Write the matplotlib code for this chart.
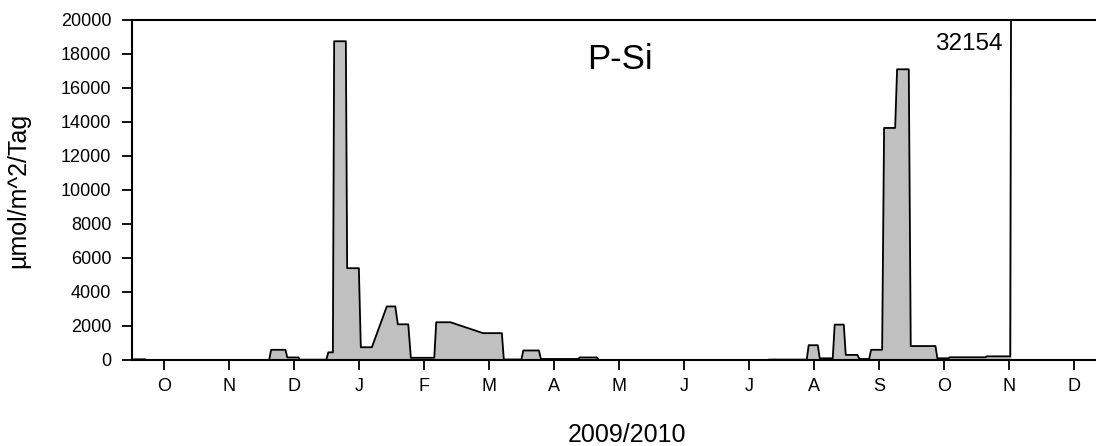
import matplotlib
matplotlib.use("Agg")
import matplotlib.pyplot as plt
import numpy as np

plt.rcParams['font.family'] = ['Liberation Sans', 'DejaVu Sans']

# Month tick labels (Oct 2009 .. Dec 2010); x is measured in months from October 2009
month_labels = ['O', 'N', 'D', 'J', 'F', 'M', 'A', 'M', 'J', 'J', 'A', 'S', 'O', 'N', 'D']

# Sampling intervals (start, end, in months) and P-Si flux for each cup
cup_start = [-0.49, -0.26, 1.65, 1.90, 2.09, 2.53, 2.62, 2.82, 3.03, 3.43, 3.60, 3.80,
             4.19, 4.91, 5.23, 5.53, 5.80, 6.40, 6.69, 9.31, 9.92, 10.09, 10.32, 10.49,
             10.70, 10.88, 11.08, 11.28, 11.49, 11.90, 12.09, 12.66, 13.04]
cup_end = [-0.29, 1.62, 1.87, 2.07, 2.50, 2.60, 2.80, 3.00, 3.20, 3.56, 3.76, 4.16,
           4.41, 5.20, 5.50, 5.77, 6.37, 6.66, 9.29, 9.89, 10.06, 10.29, 10.46, 10.67,
           10.85, 11.05, 11.25, 11.46, 11.87, 12.07, 12.64, 13.02, 13.04]
psi_flux = [40, 0, 600, 150, 20, 450, 18750, 5400, 750, 3150, 2100, 130,
            2220, 1580, 30, 560, 60, 150, 0, 25, 870, 100, 2080, 300,
            60, 600, 13650, 17100, 820, 100, 160, 215, 32154]

off_scale_label = "32154"

# Build the step-like outline: each cup is a flat segment, gaps are joined directly
xs, ys = [], []
for s, e, v in zip(cup_start, cup_end, psi_flux):
    xs.extend([s, e])
    ys.extend([v, v])
xs = np.array(xs)
ys = np.array(ys)

fig = plt.figure(figsize=(10.96, 4.46), dpi=100)
ax = fig.add_axes([132 / 1096, 1 - 360 / 446, (1122 - 132) / 1096, 340 / 446])

ax.fill_between(xs, 0, ys, color='#c0c0c0', linewidth=0)
ax.plot(xs, ys, color='black', linewidth=1.3)

ax.set_xlim(-0.49, 14.74)
ax.set_ylim(0, 20000)

ax.set_xticks(np.arange(len(month_labels)))
ax.set_xticklabels(month_labels)
ax.set_yticks(np.arange(0, 20001, 2000))

ax.tick_params(axis='both', direction='out', length=7, width=1.3, labelsize=13,
               top=False, right=False)
ax.tick_params(axis='y', pad=8)
ax.tick_params(axis='x', pad=6)
for side in ['left', 'bottom', 'top']:
    ax.spines[side].set_linewidth(1.5)
ax.spines['right'].set_visible(False)

ax.set_xlabel('2009/2010', fontsize=18, labelpad=20)
ax.set_ylabel('µmol/m^2/Tag', fontsize=18, labelpad=22)

ax.text(7.02, 17650, 'P-Si', fontsize=25, ha='center', va='center')
ax.text(12.9, 18600, off_scale_label, fontsize=17.5, ha='right', va='center')

fig.savefig('out.png', dpi=100)
